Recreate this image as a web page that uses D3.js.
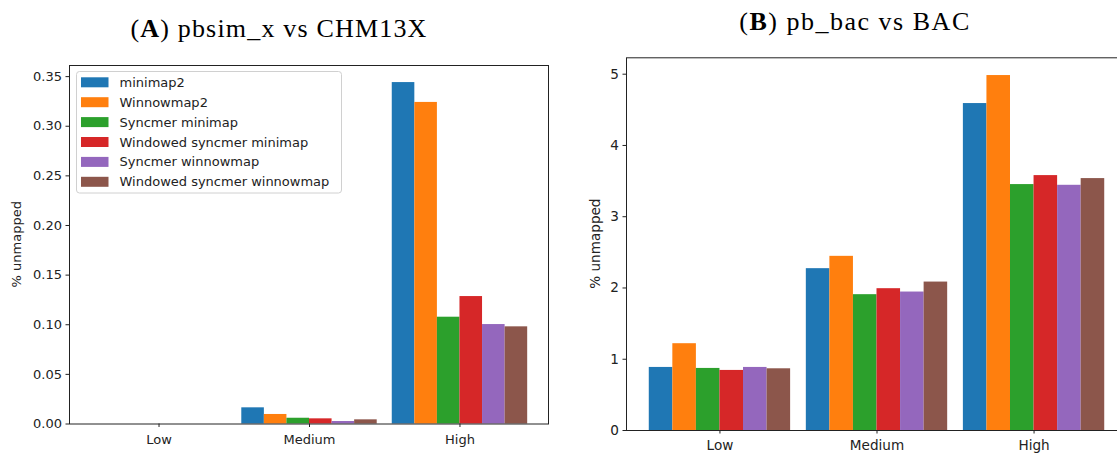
<!DOCTYPE html>
<html>
<head>
<meta charset="utf-8">
<script src="https://cdn.jsdelivr.net/npm/d3@7"></script>
<style>
  html, body { margin: 0; padding: 0; background: #fff; }
  svg { display: block; }
</style>
</head>
<body>
<svg id="chart" width="1117" height="453"></svg>
<script>
// ---------------- DATA ----------------
const categories = ["Low", "Medium", "High"];
const methods = ["minimap2", "Winnowmap2", "Syncmer minimap", "Windowed syncmer minimap", "Syncmer winnowmap", "Windowed syncmer winnowmap"];
const colors = ["#1f77b4", "#ff7f0e", "#2ca02c", "#d62728", "#9467bd", "#8c564b"];

// Panel A: pbsim_x vs CHM13X (% unmapped) -- one array per method, [Low, Medium, High]
const pbsimMinimap2 = [0, 0.0163, 0.344];
const pbsimWinnowmap2 = [0, 0.0096, 0.324];
const pbsimSyncmerMinimap = [0, 0.0058, 0.1076];
const pbsimWindowedSyncmerMinimap = [0, 0.0052, 0.1284];
const pbsimSyncmerWinnowmap = [0, 0.0025, 0.1002];
const pbsimWindowedSyncmerWinnowmap = [0, 0.0042, 0.0979];

// Panel B: pb_bac vs BAC (% unmapped)
const bacMinimap2 = [0.885, 2.271, 4.588];
const bacWinnowmap2 = [1.218, 2.444, 4.981];
const bacSyncmerMinimap = [0.871, 1.906, 3.451];
const bacWindowedSyncmerMinimap = [0.843, 1.990, 3.577];
const bacSyncmerWinnowmap = [0.885, 1.943, 3.441];
const bacWindowedSyncmerWinnowmap = [0.866, 2.083, 3.535];

const yTicksA = [0, 0.05, 0.10, 0.15, 0.20, 0.25, 0.30, 0.35];
const yTicksB = [0, 1, 2, 3, 4, 5];

const seriesA = [pbsimMinimap2, pbsimWinnowmap2, pbsimSyncmerMinimap, pbsimWindowedSyncmerMinimap, pbsimSyncmerWinnowmap, pbsimWindowedSyncmerWinnowmap];
const seriesB = [bacMinimap2, bacWinnowmap2, bacSyncmerMinimap, bacWindowedSyncmerMinimap, bacSyncmerWinnowmap, bacWindowedSyncmerWinnowmap];

// ---------------- DRAW ----------------
const svg = d3.select("#chart");

function drawPanel(cfg) {
  const g = svg.append("g");
  const x = d3.scaleLinear().domain([-0.595, 2.595]).range([cfg.left, cfg.right]);
  const yMax = d3.max(cfg.series, s => d3.max(s)) * 1.05;
  const y = d3.scaleLinear().domain([0, yMax]).range([cfg.bottom, cfg.top]);
  const barW = 0.15;

  // bars
  cfg.series.forEach((vals, si) => {
    g.append("g").selectAll("rect")
      .data(vals)
      .join("rect")
      .attr("x", (d, i) => x(i - 0.45 + si * barW))
      .attr("width", x(barW) - x(0))
      .attr("y", d => y(d))
      .attr("height", d => y(0) - y(d))
      .attr("fill", colors[si]);
  });

  // spines
  const sp = g.append("g").attr("stroke", "#222").attr("stroke-width", 1).attr("fill", "none");
  sp.append("rect")
    .attr("x", cfg.left + 0.5).attr("y", cfg.top + 0.5)
    .attr("width", cfg.right - cfg.left - 1).attr("height", cfg.bottom - cfg.top);

  // y axis
  const yAxis = d3.axisLeft(y).tickValues(cfg.yTicks).tickFormat(cfg.yFormat).tickSize(3.5).tickPadding(3.5);
  const ya = g.append("g").attr("transform", `translate(${cfg.left},0)`).call(yAxis);
  ya.select(".domain").remove();
  ya.selectAll("line").attr("stroke", "#222");
  ya.selectAll("text").attr("font-family", "DejaVu Sans").attr("font-size", cfg.fs).attr("fill", "#222");

  // x axis
  const xAxis = d3.axisBottom(x).tickValues([0, 1, 2]).tickFormat(i => categories[i]).tickSize(3.5).tickPadding(cfg.xPad);
  const xa = g.append("g").attr("transform", `translate(0,${cfg.bottom})`).call(xAxis);
  xa.select(".domain").remove();
  xa.selectAll("line").attr("stroke", "#222");
  xa.selectAll("text").attr("font-family", "DejaVu Sans").attr("font-size", cfg.fs).attr("fill", "#222");

  // y label
  g.append("text")
    .attr("transform", `translate(${cfg.ylabelX},${(cfg.top + cfg.bottom) / 2}) rotate(-90)`)
    .attr("text-anchor", "middle")
    .attr("font-family", "DejaVu Sans").attr("font-size", cfg.fs).attr("fill", "#222")
    .text("% unmapped");

  // title
  const t = svg.append("text")
    .attr("x", cfg.titleX).attr("y", cfg.titleY)
    .attr("text-anchor", "middle")
    .attr("font-family", "Liberation Serif, DejaVu Serif, serif")
    .attr("font-size", 26).attr("fill", "#000");
  t.append("tspan").text("(");
  t.append("tspan").attr("font-weight", "bold").text(cfg.titleLetter);
  t.append("tspan").text(") " + cfg.titleText);
  const w = t.node().getComputedTextLength();
  const nChars = (cfg.titleLetter + cfg.titleText).length + 3;
  t.attr("letter-spacing", (cfg.titleWidth - w) / (nChars - 1));

  return { x, y, g };
}

const A = drawPanel({
  series: seriesA, left: 69, right: 549, top: 65, bottom: 423.5,
  yTicks: yTicksA, yFormat: d3.format(".2f"), fs: 13, ylabelX: 21, xPad: 7.5,
  titleX: 279, titleY: 37, titleLetter: "A", titleText: "pbsim_x vs CHM13X", titleWidth: 296
});

const B = drawPanel({
  series: seriesB, left: 626, right: 1127, top: 57.3, bottom: 430,
  yTicks: yTicksB, yFormat: d3.format("d"), fs: 13.6, ylabelX: 600, xPad: 7,
  titleX: 855, titleY: 29.5, titleLetter: "B", titleText: "pb_bac vs BAC", titleWidth: 230
});

// legend (panel A)
const leg = svg.append("g");
leg.append("rect")
  .attr("x", 76.5).attr("y", 71.5).attr("width", 265).attr("height", 121.5)
  .attr("rx", 3).attr("fill", "#fff").attr("fill-opacity", 0.8)
  .attr("stroke", "#d0d0d0").attr("stroke-width", 1);
const rowH = 19.9;
const items = leg.selectAll("g.item").data(methods).join("g").attr("class", "item")
  .attr("transform", (d, i) => `translate(81,${82.3 + i * rowH})`);
items.append("rect").attr("x", 0).attr("y", -5).attr("width", 27.5).attr("height", 10)
  .attr("fill", (d, i) => colors[i]);
items.append("text").attr("x", 38.5).attr("y", 0).attr("dy", "0.35em")
  .attr("font-family", "DejaVu Sans").attr("font-size", 13).attr("fill", "#222")
  .text(d => d);
</script>
</body>
</html>
